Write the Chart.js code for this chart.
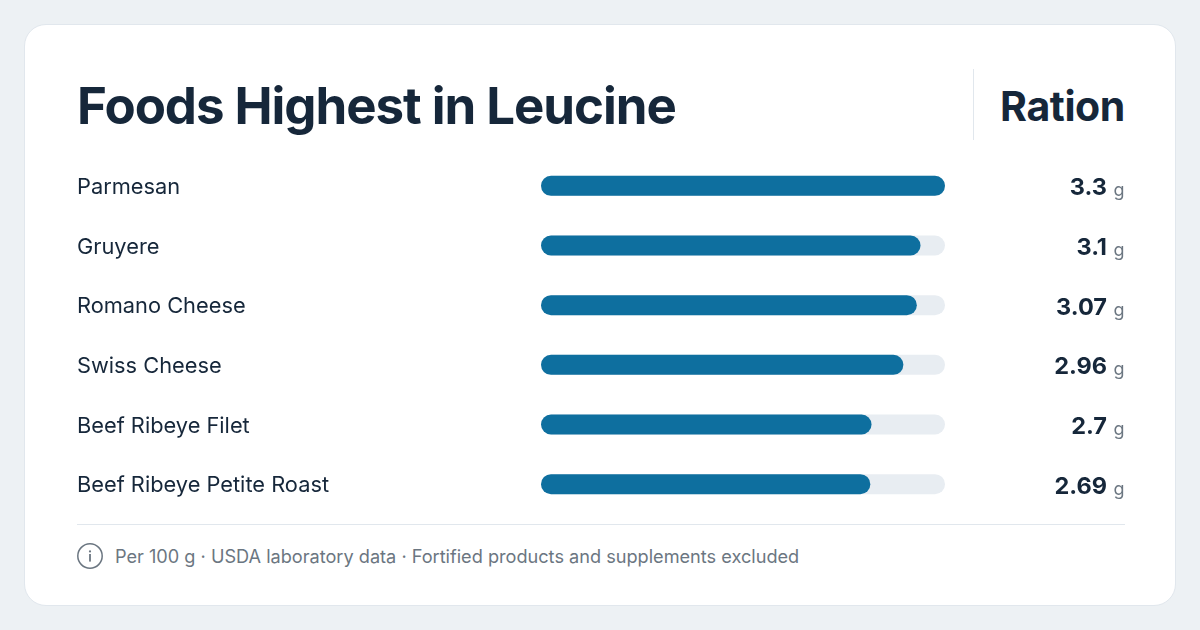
<!DOCTYPE html>
<html>
<head>
<meta charset="utf-8">
<title>Foods Highest in Leucine</title>
<script src="https://cdn.jsdelivr.net/npm/chart.js@4"></script>
<style>
  html, body { margin: 0; padding: 0; }
  body { width: 1200px; height: 630px; background: #edf1f4; font-family: Inter, sans-serif; color: #16273a; overflow: hidden; position: relative; }
  .card { position: absolute; left: 24px; top: 24px; width: 1152px; height: 582px; box-sizing: border-box; background: #fff; border: 1px solid #e1e7ed; border-radius: 22px; }
  .abs { position: absolute; white-space: nowrap; }
  #title { left: 77px; top: 74px; font-size: 51px; line-height: 64px; font-weight: 700; letter-spacing: -1.05px; }
  #unitHead { right: 75px; top: 81px; font-size: 41px; line-height: 50px; font-weight: 700; letter-spacing: -0.4px; }
  #vline { left: 973px; top: 69px; width: 1px; height: 71px; background: #e1e7ed; }
  #hline { left: 77px; top: 524px; width: 1048px; height: 1px; background: #e1e7ed; }
  #note { left: 115px; top: 543px; font-size: 18.15px; line-height: 26px; color: #6b7681; }
  #icon { left: 77px; top: 543px; }
  #chartBox { position: absolute; left: 77px; top: 156px; width: 1048px; height: 358px; }
</style>
</head>
<body>
<div class="card"></div>
<div class="abs" id="title">Foods Highest in Leucine</div>
<div class="abs" id="vline"></div>
<div class="abs" id="unitHead">Ration</div>
<div id="chartBox"><canvas id="chart"></canvas></div>
<div class="abs" id="hline"></div>
<svg class="abs" id="icon" width="26" height="26" viewBox="0 0 26 26">
  <circle cx="13" cy="13" r="12.2" fill="none" stroke="#6b7681" stroke-width="1.5"/>
  <circle cx="13" cy="8.4" r="1.1" fill="#6b7681"/>
  <rect x="12.1" y="11" width="1.8" height="7.6" fill="#6b7681"/>
</svg>
<div class="abs" id="note">Per 100 g · USDA laboratory data · Fortified products and supplements excluded</div>
<script>
const foods = ['Parmesan', 'Gruyere', 'Romano Cheese', 'Swiss Cheese', 'Beef Ribeye Filet', 'Beef Ribeye Petite Roast'];
const leucine = [3.3, 3.1, 3.07, 2.96, 2.7, 2.69];
const track = [3.3, 3.3, 3.3, 3.3, 3.3, 3.3];
const unit = 'g';

// value + unit at the right of each row
const valueLabels = {
  id: 'valueLabels',
  afterDatasetsDraw(chart) {
    const ctx = chart.ctx;
    const y = chart.scales.y;
    ctx.save();
    ctx.textAlign = 'right';
    ctx.textBaseline = 'alphabetic';
    leucine.forEach((v, i) => {
      const py = y.getPixelForValue(i);
      ctx.font = '700 23.5px Inter';
      ctx.fillStyle = '#16273a';
      ctx.fillText(String(v), 1030, py + 9.5);
      ctx.font = '400 18px Inter';
      ctx.fillStyle = '#6b7681';
      ctx.fillText(unit, 1047.5, py + 10.5);
    });
    ctx.restore();
  }
};

new Chart(document.getElementById('chart'), {
  type: 'bar',
  data: {
    labels: foods,
    datasets: [
      { data: leucine, backgroundColor: '#0e6f9f', order: 1 },
      { data: track, backgroundColor: '#e8edf2', order: 2 }
    ]
  },
  options: {
    indexAxis: 'y',
    responsive: true,
    maintainAspectRatio: false,
    animation: false,
    layout: { padding: { left: 0, right: 180, top: 0, bottom: 0 } },
    datasets: { bar: { grouped: false, barThickness: 20, borderRadius: 10, borderSkipped: false, inflateAmount: 0 } },
    plugins: { legend: { display: false }, tooltip: { enabled: false } },
    scales: {
      x: { display: false, min: 0, max: 3.3 },
      y: {
        afterFit(axis) { axis.width = 464; },
        grid: { display: false },
        border: { display: false },
        // lineHeight 0 stops the axis reserving half a label above and below the rows
        ticks: { crossAlign: 'far', padding: 0, labelOffset: 1.5, color: '#16273a', font: { family: 'Inter', size: 21.8, lineHeight: 0 } }
      }
    }
  },
  plugins: [valueLabels]
});
</script>
</body>
</html>
